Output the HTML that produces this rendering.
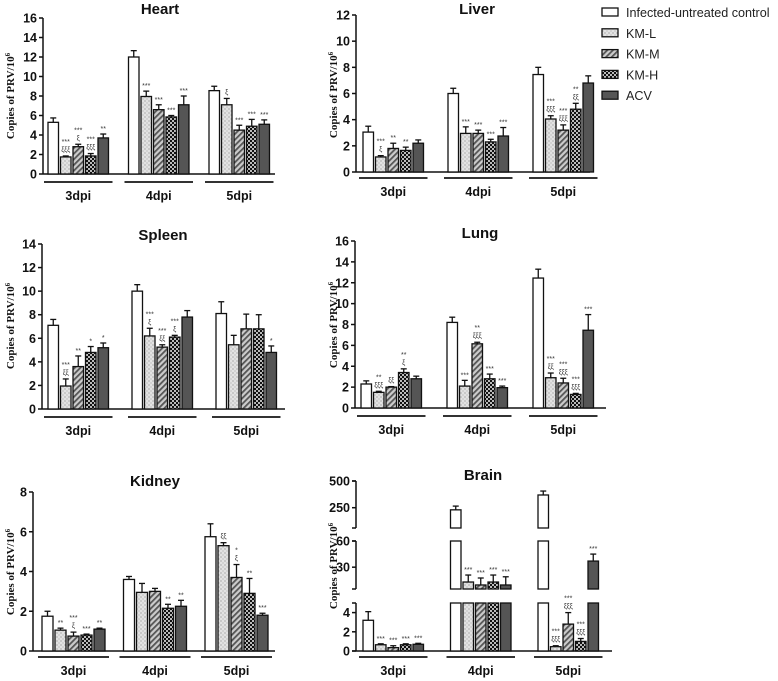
<!DOCTYPE html>
<html><head><meta charset="utf-8">
<style>
html,body{margin:0;padding:0;background:#fff;}
svg{display:block;font-family:"Liberation Sans",sans-serif;}
</style></head>
<body>
<svg id="chart" width="778" height="681" viewBox="0 0 778 681" xmlns="http://www.w3.org/2000/svg">
<defs>
<pattern id="pDots" width="4" height="4" patternUnits="userSpaceOnUse"><rect width="4" height="4" fill="#e2e2e2"/><circle cx="1" cy="1" r="0.6" fill="#888"/><circle cx="3" cy="3" r="0.6" fill="#aaa"/></pattern>
<pattern id="pHatch" width="4" height="4" patternUnits="userSpaceOnUse" patternTransform="rotate(45)"><rect width="4" height="4" fill="#ccc"/><rect width="1.8" height="4" fill="#555"/></pattern>
<pattern id="pCheck" width="4" height="4" patternUnits="userSpaceOnUse"><rect width="4" height="4" fill="#111"/><rect width="2" height="2" fill="#bbb"/><rect x="2" y="2" width="2" height="2" fill="#bbb"/></pattern>
</defs>
<g id="legend"></g>
</svg>
<script>
const groups = ["3dpi","4dpi","5dpi"];
const seriesNames = ["Infected-untreated control","KM-L","KM-M","KM-H","ACV"];
const fills = ["#fff","url(#pDots)","url(#pHatch)","url(#pCheck)","#555"];

const heartVals = [[5.3,1.75,2.8,1.85,3.7],[12.0,7.95,6.6,5.85,7.1],[8.55,7.1,4.5,4.9,5.1]];
const heartErr  = [[5.75,1.85,3.05,2.1,4.1],[12.65,8.5,7.1,6.0,8.0],[9.0,7.75,5.0,5.6,5.55]];
const heartStar = [["","***","***","***","**"],["","***","***","***","***"],["","","***","***","***"]];
const heartXi   = [["","ξξξ","ξ","ξξξ",""],["","","","",""],["","ξ","","",""]];

const liverVals = [[3.05,1.15,1.8,1.65,2.2],[6.0,2.95,2.95,2.3,2.75],[7.45,4.05,3.2,4.8,6.8]];
const liverErr  = [[3.5,1.25,2.2,1.9,2.45],[6.4,3.45,3.2,2.5,3.4],[8.0,4.3,3.6,5.25,7.35]];
const liverStar = [["","***","**","**",""],["","***","***","***","***"],["","***","***","**",""]];
const liverXi   = [["","ξ","","",""],["","","","",""],["","ξξξ","ξξξ","ξξ",""]];

const spleenVals = [[7.1,1.95,3.6,4.8,5.2],[10.0,6.2,5.25,6.1,7.8],[8.1,5.45,6.8,6.8,4.8]];
const spleenErr  = [[7.6,2.55,4.5,5.3,5.6],[10.55,6.85,5.45,6.25,8.35],[9.1,6.25,8.05,8.0,5.35]];
const spleenStar = [["","***","**","*","*"],["","***","***","***",""],["","","","","*"]];
const spleenXi   = [["","ξξ","","",""],["","ξ","ξξ","ξ",""],["","","","",""]];

const lungVals = [[2.3,1.5,2.0,3.4,2.8],[8.2,2.1,6.15,2.8,1.95],[12.45,2.9,2.4,1.3,7.45]];
const lungErr  = [[2.6,1.6,2.05,3.75,3.05],[8.7,2.65,6.3,3.25,2.1],[13.3,3.35,2.85,1.4,8.95]];
const lungStar = [["","**","","**",""],["","***","**","***","***"],["","***","***","***","***"]];
const lungXi   = [["","ξξξ","ξξ","ξ",""],["","","ξξξ","",""],["","ξξ","ξξξ","ξξξ",""]];

const kidneyVals = [[1.75,1.05,0.75,0.8,1.1],[3.6,2.95,3.0,2.15,2.25],[5.75,5.3,3.7,2.9,1.8]];
const kidneyErr  = [[2.0,1.15,0.95,0.85,1.15],[3.75,3.4,3.15,2.35,2.55],[6.4,5.45,4.35,3.65,1.9]];
const kidneyStar = [["","**","***","***","**"],["","","","**","**"],["","","*","**","***"]];
const kidneyXi   = [["","","ξ","",""],["","","","",""],["","ξξ","ξ","",""]];

const brainVals = [[3.2,0.65,0.35,0.65,0.7],[230,13,9.6,13,9.6],[369,0.45,2.8,1.0,37]];
const brainErr  = [[4.1,0.75,0.55,0.75,0.8],[265,21,17.6,21,19],[406,0.55,4.0,1.3,45]];
const brainStar = [["","***","***","***","***"],["","***","***","***","***"],["","***","***","***","***"]];
const brainXi   = [["","","","",""],["","","","",""],["","ξξξ","ξξξ","ξξξ",""]];

const heartTicks=[0,2,4,6,8,10,12,14,16], liverTicks=[0,2,4,6,8,10,12], spleenTicks=[0,2,4,6,8,10,12,14],
      lungTicks=[0,2,4,6,8,10,12,14,16], kidneyTicks=[0,2,4,6,8], brainTicks=[0,2,4,30,60,250,500];

const NS="http://www.w3.org/2000/svg";
const svg=document.getElementById('chart');
function mk(tag,attrs,parent){const e=document.createElementNS(NS,tag);for(const k in attrs)e.setAttribute(k,attrs[k]);(parent||svg).appendChild(e);return e;}

function linScale(y0,yTop,max){return v=>y0-(v/max)*(y0-yTop);}
function brainScale(v){
  if(v<=5) return 651-v*48/5;
  if(v<=60) return 589-(v-5)*48/55;
  return 528-(v-60)*47/440;
}

function panel(p){
  const g=mk('g',{});
  
  
  const t=mk('text',{x:p.titleX,y:p.titleY,'text-anchor':'middle','font-size':15,'font-weight':'bold',fill:'#111'},g);
  t.textContent=p.title;
  
  
  const yt=mk('text',{x:0,y:0,transform:`translate(${p.ytX},${p.ytY}) rotate(-90)`,'text-anchor':'middle','font-size':11,'font-weight':'bold','font-family':'"Liberation Serif",serif',fill:'#111'},g);
  yt.innerHTML='Copies of PRV/10<tspan dy="-4" font-size="7">6</tspan>';
  
  
  const ax=p.axisX, y=p.scale;
  const segs=p.segs||[[p.y0,y(p.ticks[p.ticks.length-1])]];
  segs.forEach(s=>{
    const l=mk('line',{x1:ax,x2:ax,y1:s[0],y2:s[1],stroke:'#111','stroke-width':1.5},g);
    
    
    if(p.segs){mk('line',{x1:ax-4,x2:ax,y1:s[0],y2:s[0],stroke:'#111','stroke-width':1.5},g);mk('line',{x1:ax-4,x2:ax,y1:s[1],y2:s[1],stroke:'#111','stroke-width':1.5},g);}
  });
  const xl=mk('line',{x1:ax,x2:p.xEnd,y1:p.y0,y2:p.y0,stroke:'#111','stroke-width':1.5},g);
  
  
  p.ticks.forEach(tv=>{
    const ty=y(tv);
    mk('line',{x1:ax-4,x2:ax,y1:ty,y2:ty,stroke:'#111','stroke-width':1.5},g);
    const tl=mk('text',{x:ax-6,y:ty+4.5,'text-anchor':'end','font-size':12.5,'font-weight':'bold',fill:'#111'},g);
    tl.textContent=tv;
    
    
  });
  const bw=p.bw||10.5, pitch=p.pitch||12.5;
  groups.forEach((gn,gi)=>{
    const gx=p.gx0+gi*p.gpitch;
    p.vals[gi].forEach((v,si)=>{
      const x=gx+si*pitch;
      const e=p.err[gi][si];
      const ey=y(e);
      mk('line',{x1:x+bw/2,x2:x+bw/2,y1:y(v),y2:ey,stroke:'#111','stroke-width':1.3},g);
      mk('line',{x1:x+bw/2-3,x2:x+bw/2+3,y1:ey,y2:ey,stroke:'#111','stroke-width':1.3},g);
      let parts;
      if(p.key==='brain'){
        parts=[[0,Math.min(v,5),651]];
        if(v>5)parts.push([5,Math.min(v,60),589]);
        if(v>60)parts.push([60,v,528]);
      } else parts=[[0,v,y(0)]];
      parts.forEach(pp=>{
        const top=y(pp[1]), bot=pp[2];
        const r=mk('rect',{x:x,y:top,width:bw,height:Math.max(bot-top,0.5),fill:fills[si],stroke:'#111','stroke-width':1.3},g);
        
        
      });
      const st=p.star[gi][si], xi=p.xi[gi][si];
      const cx=x+bw/2;
      if(xi){const a=mk('text',{x:cx,y:ey-4,'text-anchor':'middle','font-size':7,fill:'#333'},g);a.textContent=xi;
        
        }
      if(st){const a=mk('text',{x:cx,y:ey-(xi?12:3),'text-anchor':'middle','font-size':7,fill:'#333'},g);a.textContent=st;
        
        }
    });
    const gw=4*pitch+bw;
    const ul=mk('line',{x1:gx-4,x2:gx+gw+4,y1:p.ulY,y2:p.ulY,stroke:'#333','stroke-width':2},g);
    
    
    const gl=mk('text',{x:gx+gw/2,y:p.ulY+18,'text-anchor':'middle','font-size':12.5,'font-weight':'bold',fill:'#111'},g);
    gl.textContent=gn;
    
    
  });
}

panel({key:'heart',title:'Heart',titleX:160,titleY:14,ytX:14,ytY:96,axisX:43,y0:174,scale:linScale(174,18,16),ticks:heartTicks,xEnd:275,gx0:48,gpitch:80.5,ulY:182,vals:heartVals,err:heartErr,star:heartStar,xi:heartXi});
panel({key:'liver',title:'Liver',titleX:477,titleY:14,ytX:337,ytY:95,axisX:356,y0:172,scale:linScale(172,15,12),ticks:liverTicks,xEnd:590,gx0:363,gpitch:85,ulY:178,vals:liverVals,err:liverErr,star:liverStar,xi:liverXi});
panel({key:'spleen',title:'Spleen',titleX:163,titleY:240,ytX:14,ytY:326,axisX:42,y0:409,scale:linScale(409,244,14),ticks:spleenTicks,xEnd:285,gx0:48,gpitch:84,ulY:417,vals:spleenVals,err:spleenErr,star:spleenStar,xi:spleenXi});
panel({key:'lung',title:'Lung',titleX:480,titleY:238,ytX:337,ytY:325,axisX:355,y0:408,scale:linScale(408,241,16),ticks:lungTicks,xEnd:606,gx0:361,gpitch:86,ulY:416,vals:lungVals,err:lungErr,star:lungStar,xi:lungXi});
panel({key:'kidney',title:'Kidney',titleX:155,titleY:486,ytX:14,ytY:572,axisX:33,y0:651,scale:linScale(651,492,8),ticks:kidneyTicks,xEnd:275,gx0:42,gpitch:81.5,pitch:13,bw:11,ulY:657,vals:kidneyVals,err:kidneyErr,star:kidneyStar,xi:kidneyXi});
panel({key:'brain',title:'Brain',titleX:483,titleY:480,ytX:337,ytY:566,axisX:356,y0:651,scale:brainScale,segs:[[651,603],[589,541],[528,481]],ticks:brainTicks,xEnd:612,gx0:363,gpitch:87.5,ulY:657,vals:brainVals,err:brainErr,star:brainStar,xi:brainXi});

const lg=document.getElementById('legend');
seriesNames.forEach((n,i)=>{
  const yy=12+i*20.8;
  const r=mk('rect',{x:602,y:yy-4,width:16,height:8,fill:fills[i],stroke:'#111','stroke-width':1.3},lg);
  
  
  const t=mk('text',{x:626,y:yy+5,'font-size':12.6,fill:'#222'},lg);
  t.textContent=n;
  
  
});
</script>
</body></html>
